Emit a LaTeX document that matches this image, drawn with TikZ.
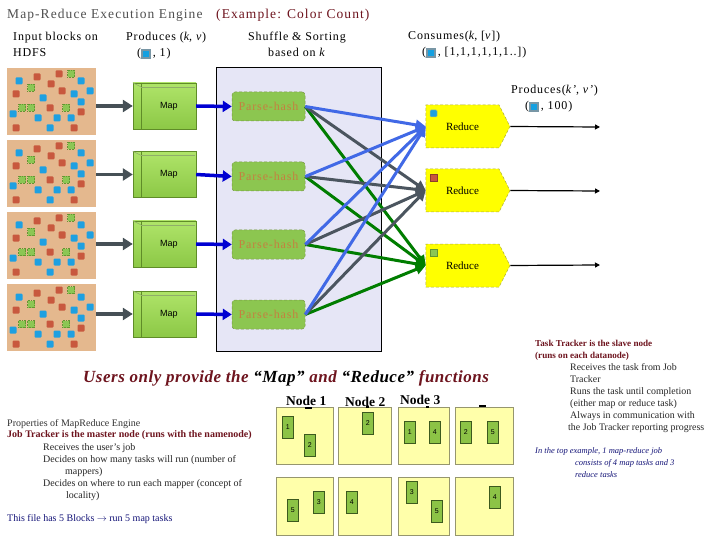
\documentclass[tikz,border=0pt]{standalone}
\usepackage{fontspec}
\setmainfont{Liberation Serif}
\newfontfamily\sansf{Liberation Sans}
\newfontfamily\ttlfont[LetterSpace=8]{Liberation Serif}
\newfontfamily\hdfont[LetterSpace=7]{Liberation Serif}
\newfontfamily\usrfont[LetterSpace=3]{Liberation Serif}
\usetikzlibrary{arrows.meta,shapes.symbols,calc}

\definecolor{titlegray}{RGB}{80,80,80}
\definecolor{darkred}{RGB}{110,20,30}
\definecolor{tanc}{RGB}{228,184,142}
\definecolor{dblue}{RGB}{30,160,225}
\definecolor{dred}{RGB}{200,88,62}
\definecolor{dgreen}{RGB}{140,198,84}
\definecolor{dgreenb}{RGB}{100,150,50}
\definecolor{mapg}{RGB}{140,200,70}
\definecolor{mapgl}{RGB}{175,228,105}
\definecolor{mapd}{RGB}{95,140,40}
\definecolor{arrgray}{RGB}{70,80,86}
\definecolor{arrblue}{RGB}{0,0,210}
\definecolor{lav}{RGB}{230,230,246}
\definecolor{parsef}{RGB}{140,198,80}
\definecolor{parset}{RGB}{196,128,64}
\definecolor{parseb}{RGB}{120,150,70}
\definecolor{redy}{RGB}{255,255,0}
\definecolor{redb}{RGB}{170,170,60}
\definecolor{lblue}{RGB}{65,105,230}
\definecolor{lgray}{RGB}{75,85,95}
\definecolor{lgreen}{RGB}{0,125,0}
\definecolor{nodey}{RGB}{255,255,170}
\definecolor{nodeb}{RGB}{150,150,110}
\definecolor{txtblue}{RGB}{20,20,120}
\definecolor{icogray}{RGB}{120,150,165}
\definecolor{icoblue}{RGB}{20,160,225}
\definecolor{blkg}{RGB}{140,195,70}
\definecolor{blkb}{RGB}{60,90,30}

\newcommand\kicon{{\setlength\fboxsep{0pt}\setlength\fboxrule{1.6pt}\raisebox{-0.5pt}{\fcolorbox{icogray}{icoblue}{\rule{0pt}{6.5pt}\rule{6.5pt}{0pt}}}}}

\tikzset{dots/.pic={
  \foreach \a/\b in {12/13,74/13,83/23,67/26,36/30,74/34,6/46,31/50,50/50,64/50,43/60}
    \fill[dblue, rounded corners=1pt] (\a-3.5,\b-3.5) rectangle ++(7,7);
  \foreach \a/\b in {30/9,52/6,44/16,55/23,9/26,43/40,74/44,9/60,67/60}
    \fill[dred, rounded corners=1pt] (\a-3.5,\b-3.5) rectangle ++(7,7);
  \foreach \a/\b in {64/6,24/20,15/40,24/40,59/40}
    \filldraw[fill=dgreen, draw=dgreenb, densely dotted, line width=0.6pt] (\a-3.5,\b-3.5) rectangle ++(7,7);
}}

\begin{document}
\begin{tikzpicture}[x=1pt,y=-1pt,
  txt/.style={anchor=base west, inner sep=0pt},
  hd/.style={txt, font=\hdfont\fontsize{12}{14}\selectfont},
  block/.style={fill=tanc, minimum width=89pt, minimum height=67pt, inner sep=0pt, anchor=north west},
  mapbox/.style={draw=mapd, top color=mapgl, bottom color=mapg, minimum width=63pt, minimum height=46pt, inner sep=0pt, font=\sansf\fontsize{9}{10}\selectfont},
  garrow/.style={draw=arrgray, line width=3.5pt, -{Triangle[length=10pt,width=12pt]}},
  barrow/.style={draw=arrblue, line width=3.5pt, -{Triangle[length=9pt,width=11pt]}},
  parse/.style={fill=parsef, draw=parseb, densely dashed, line width=0.5pt, rounded corners=3pt, minimum width=73pt, minimum height=29pt, inner sep=0pt, text=parset, font=\hdfont\fontsize{12}{14}\selectfont},
  reduce/.style={signal, signal to=east, signal pointer angle=126, fill=redy, draw=redb, densely dashed, line width=0.5pt, minimum width=84pt, minimum height=43pt, inner sep=0pt, font=\fontsize{11}{12}\selectfont},
  shl/.style={line width=3pt, -{Triangle[length=10pt,width=10pt]}},
  oarrow/.style={draw=black, line width=1.2pt, -{Triangle[length=5pt,width=5pt]}},
  nbox/.style={fill=nodey, draw=nodeb, line width=0.6pt, anchor=north west, inner sep=0pt},
  blk/.style={fill=blkg, draw=blkb, line width=0.6pt, minimum width=11pt, minimum height=22pt, inner sep=0pt, font=\sansf\fontsize{7}{8}\selectfont, anchor=north west},
  sm/.style={txt, font=\fontsize{10}{11}\selectfont},
  rt/.style={txt, font=\fontsize{9.9}{11}\selectfont},
  rtb/.style={txt, text=darkred, font=\bfseries\fontsize{9.1}{10}\selectfont},
  rti/.style={txt, text=txtblue, font=\itshape\fontsize{8.5}{10}\selectfont}
]
\useasboundingbox (0,0) rectangle (720,540);
\fill[white] (0,0) rectangle (720,540);

% title
\node[txt, font=\ttlfont\fontsize{13.5}{15}\selectfont, text=titlegray] (title) at (7,19) {Map-Reduce Execution Engine};
\node[txt, font=\ttlfont\fontsize{13.5}{15}\selectfont, text=darkred] (example) at (216,19) {(Example: Color Count)};

% headers
\node[hd] (h1a) at (13,41) {Input blocks on};
\node[hd] (h1b) at (13,57) {HDFS};
\node[hd] (h2a) at (126,41) {Produces (\textit{k}, \textit{v})};
\node[hd] (h2b) at (137,57) {(\kicon\,, 1)};
\node[hd, anchor=base] (h3a) at (297,41) {Shuffle \& Sorting};
\node[hd, anchor=base] (h3b) at (297,57) {based on \textit{k}};
\node[hd] (h4a) at (408,40) {Consumes(\textit{k}, [\textit{v}])};
\node[hd] (h4b) at (422,56) {(\kicon\,, [1,1,1,1,1,1..])};
\node[hd] (h5a) at (511,94) {Produces(\textit{k’}, \textit{v’})};
\node[hd] (h5b) at (525,110) {(\kicon\,, 100)};

% shuffle area
\node[draw=black, fill=lav, line width=0.8pt, minimum width=165pt, minimum height=284pt, anchor=north west, inner sep=0pt] (shuf) at (216,67) {};

% input blocks
\node[block] (b1) at (7,68) {};
\node[block] (b2) at (7,140) {};
\node[block] (b3) at (7,212) {};
\node[block] (b4) at (7,284) {};
\foreach \i in {1,...,4} \pic at (b\i.north west) {dots};

% map boxes
\node[mapbox] (m1) at (164.5,106) {\hspace*{9pt}Map};
\node[mapbox] (m2) at (164.5,174.5) {\hspace*{9pt}Map};
\node[mapbox] (m3) at (164.5,244) {\hspace*{9pt}Map};
\node[mapbox] (m4) at (164.5,314) {\hspace*{9pt}Map};
\foreach \i in {1,...,4} {
  \draw[mapd, line width=0.5pt] ($(m\i.north west)+(8,0)$) -- ($(m\i.south west)+(8,0)$);
  \draw[mapd!70, line width=0.5pt] ($(m\i.north west)+(8,4)$) -- ($(m\i.north east)+(-1,4)$);
  \draw[mapd!70, line width=0.5pt] (m\i.north west) -- ($(m\i.north west)+(8,4)$);
}

% parse-hash
\node[parse] (p1) at (268.5,106.5) {Parse-hash};
\node[parse] (p2) at (268.5,176.5) {Parse-hash};
\node[parse] (p3) at (268.5,244.5) {Parse-hash};
\node[parse] (p4) at (268.5,314.5) {Parse-hash};

% reduce
\node[reduce] (r1) at (462.5,126.5) {Reduce};
\node[reduce] (r2) at (462.5,190.5) {Reduce};
\node[reduce] (r3) at (462.5,265.5) {Reduce};
\filldraw[fill=dblue, draw=dgreenb!60, line width=0.5pt, rounded corners=1pt] (430,110) rectangle ++(7,7);
\filldraw[fill=dred, draw=dred!70!black, line width=0.5pt] (430,174) rectangle ++(7,7);
\filldraw[fill=dgreen, draw=dgreenb, line width=0.5pt] (430,249) rectangle ++(7,7);

% arrows block -> map -> parse
\foreach \i in {1,...,4} {
  \draw[garrow] (b\i.east |- m\i.west) -- (m\i.west);
  \draw[barrow] (m\i.east) -- (p\i.west);
}

% shuffle lines
\foreach \i in {1,...,4} \draw[shl, lgreen] (p\i.east) -- (r3.west);
\foreach \i in {1,...,4} \draw[shl, lgray] (p\i.east) -- (r2.west);
\foreach \i in {1,...,4} \draw[shl, lblue] (p\i.east) -- (r1.west);

% outputs
\coordinate (o1) at (600,127);
\coordinate (o2) at (600,191);
\coordinate (o3) at (600,265);
\draw[oarrow] (r1.east) -- (o1);
\draw[oarrow] (r2.east) -- (o2);
\draw[oarrow] (r3.east) -- (o3);

% users heading
\node[txt, font=\usrfont\bfseries\itshape\fontsize{17}{19}\selectfont, text=darkred] (users) at (83,382) {Users only provide the \textcolor{black}{“Map”} and \textcolor{black}{“Reduce”} functions};

% node labels
\node[txt, font=\bfseries\fontsize{13.5}{15}\selectfont] (nl1) at (286,405) {Node 1};
\node[txt, font=\bfseries\fontsize{13.5}{15}\selectfont] (nl2) at (345,406) {Node 2};
\node[txt, font=\bfseries\fontsize{13.5}{15}\selectfont] (nl3) at (400,404) {Node 3};

% node boxes
\node[nbox, minimum width=57pt, minimum height=57pt] (n11) at (276,407) {};
\node[nbox, minimum width=53pt, minimum height=57pt] (n12) at (338,407) {};
\node[nbox, minimum width=51pt, minimum height=57pt] (n13) at (398,407) {};
\node[nbox, minimum width=58pt, minimum height=57pt] (n14) at (455,407) {};
\node[nbox, minimum width=57pt, minimum height=58pt] (n21) at (276,477) {};
\node[nbox, minimum width=53pt, minimum height=58pt] (n22) at (338,477) {};
\node[nbox, minimum width=51pt, minimum height=58pt] (n23) at (398,477) {};
\node[nbox, minimum width=58pt, minimum height=58pt] (n24) at (455,477) {};
\draw[black, line width=2pt] (305,408) -- (312,408);
\draw[black, line width=1.5pt] (366,407) -- (369,407);
\draw[black, line width=1.5pt] (426,407) -- (429,407);
\draw[black, line width=2pt] (479,406) -- (486,406);

% small blocks
\node[blk] (k1) at (282,416) {1};
\node[blk] (k2) at (304,434) {2};
\node[blk] (k3) at (362,412) {2};
\node[blk] (k4) at (404,421) {1};
\node[blk] (k5) at (429,421) {4};
\node[blk] (k6) at (460,421) {2};
\node[blk] (k7) at (487,421) {5};
\node[blk] (k8) at (287,499) {5};
\node[blk] (k9) at (313,491) {3};
\node[blk] (k10) at (346,491) {4};
\node[blk] (k11) at (406,481) {3};
\node[blk] (k12) at (431,500) {5};
\node[blk] (k13) at (489,486) {4};

% bottom-left text
\node[sm, text=black!80] (t1) at (7,426) {Properties of MapReduce Engine};
\node[sm, text=darkred, font=\bfseries\fontsize{10}{11}\selectfont] (t2) at (7,437) {Job Tracker is the master node (runs with the namenode)};
\node[sm, text=black!85] (t3) at (43,450) {Receives the user’s job};
\node[sm, text=black!85] (t4) at (43,462) {Decides on how many tasks will run (number of};
\node[sm, text=black!85] (t5) at (65,474) {mappers)};
\node[sm, text=black!85] (t6) at (43,486) {Decides on where to run each mapper (concept of};
\node[sm, text=black!85] (t7) at (66,498) {locality)};
\node[sm, text=txtblue] (t8) at (7,521) {This file has 5 Blocks $\rightarrow$ run 5 map tasks};

% right text
\node[rtb] (s1) at (535,346) {Task Tracker is the slave node};
\node[rtb] (s2) at (535,358) {(runs on each datanode)};
\node[rt, text=black!85] (s3) at (570,370) {Receives the task from Job};
\node[rt, text=black!85] (s4) at (570,382) {Tracker};
\node[rt, text=black!85] (s5) at (570,394) {Runs the task until completion};
\node[rt, text=black!85] (s6) at (570,406) {(either map or reduce task)};
\node[rt, text=black!85] (s7) at (570,418) {Always in communication with};
\node[rt, text=black!85] (s8) at (568,430) {the Job Tracker reporting progress};
\node[rti] (s9) at (535,453) {In the top example, 1 map-reduce job};
\node[rti] (s10) at (575,465) {consists of 4 map tasks and 3};
\node[rti] (s11) at (575,477) {reduce tasks};
\end{tikzpicture}
\end{document}
